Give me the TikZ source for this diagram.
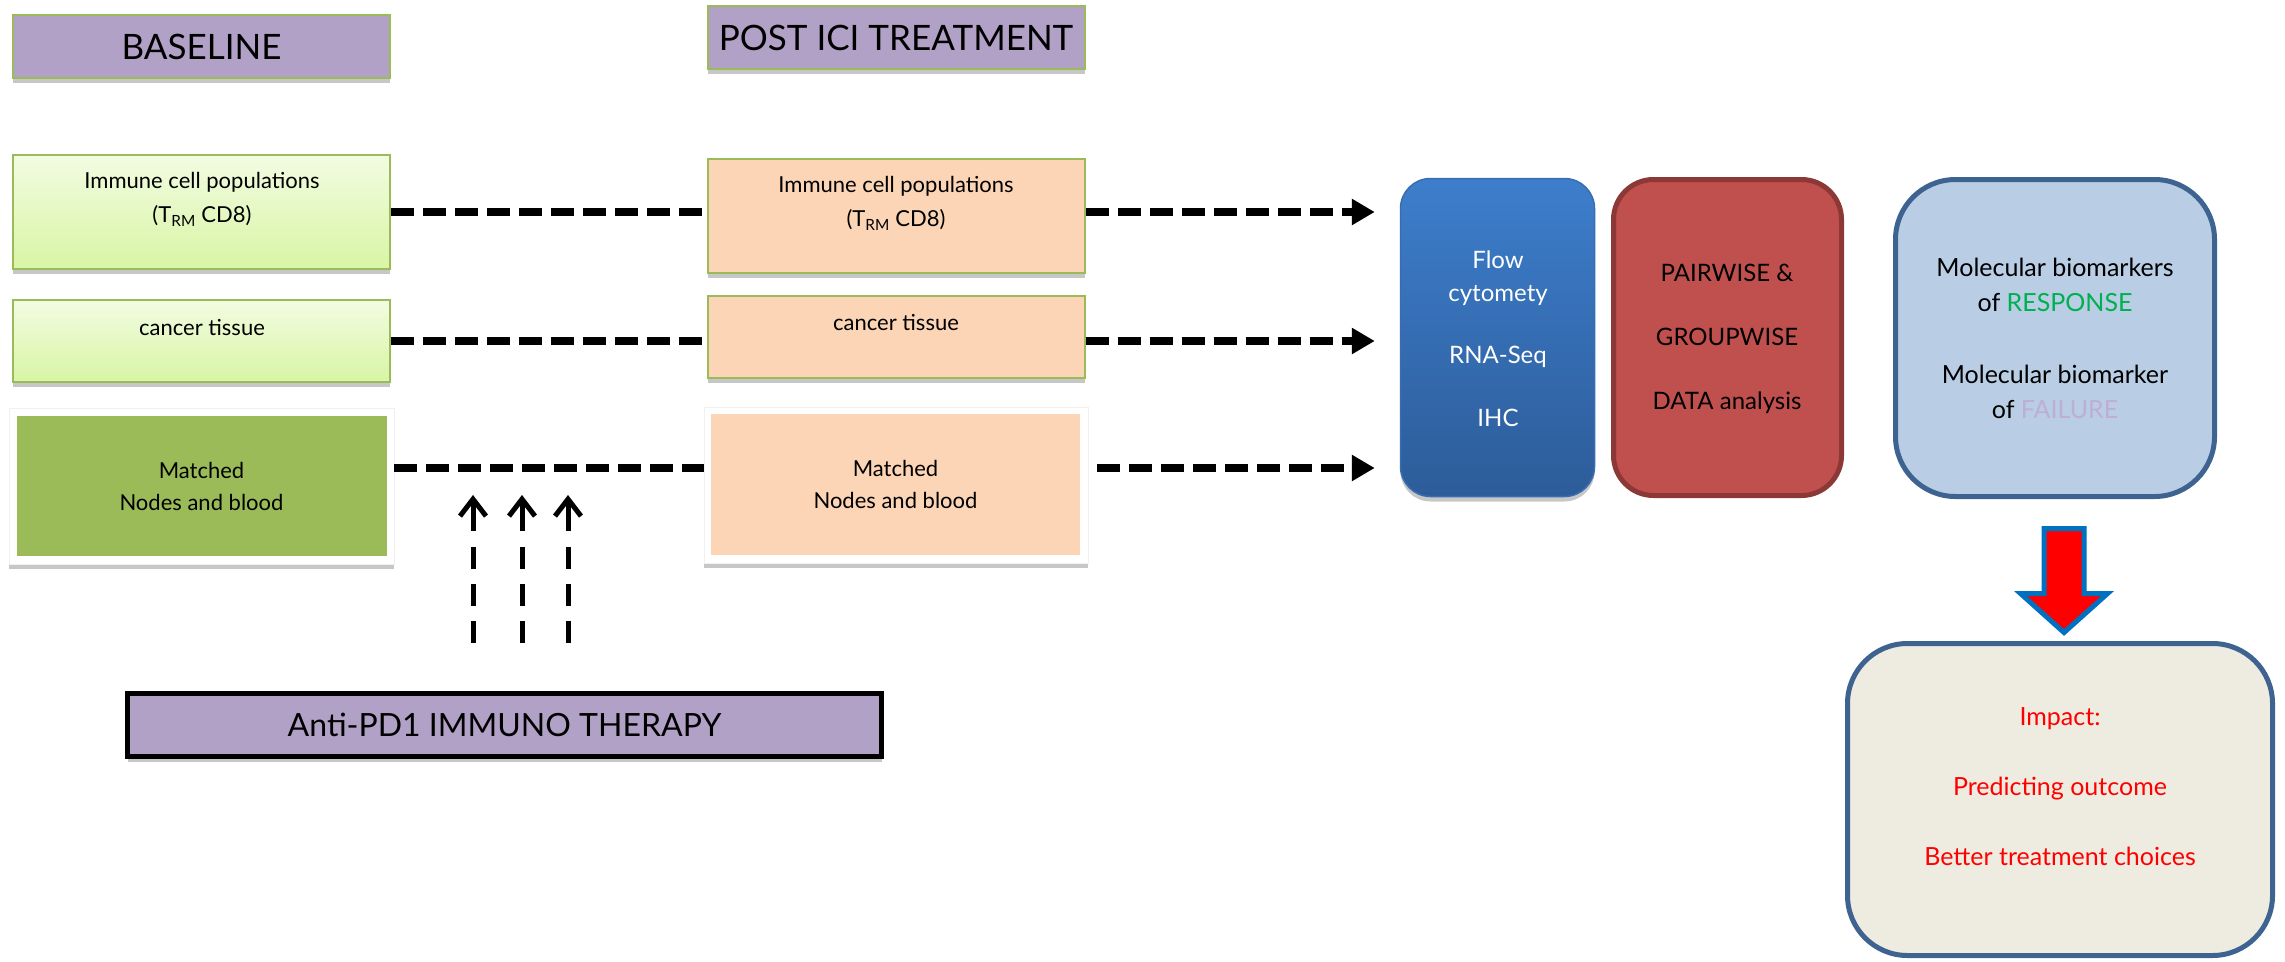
\documentclass[tikz,border=0pt]{standalone}
\usepackage{fontspec}
\setmainfont{Lato}
\usetikzlibrary{arrows.meta,shadows,calc}

\definecolor{hdrpurple}{HTML}{B2A1C7}
\definecolor{edgegreen}{HTML}{9BBB59}
\definecolor{paletop}{HTML}{F2FCE2}
\definecolor{palebot}{HTML}{D8F5A4}
\definecolor{peach}{HTML}{FBD5B5}
\definecolor{nodegreen}{HTML}{9BBB59}
\definecolor{bluetop}{HTML}{3D7ECC}
\definecolor{bluebot}{HTML}{2D5C99}
\definecolor{blueedge}{HTML}{3A6DAE}
\definecolor{redfill}{HTML}{C0504D}
\definecolor{rededge}{HTML}{8C3836}
\definecolor{lightblue}{HTML}{B9CDE5}
\definecolor{navy}{HTML}{3E6391}
\definecolor{beige}{HTML}{EEECE1}
\definecolor{respgreen}{HTML}{00B050}
\definecolor{failpurple}{HTML}{BFAED3}
\definecolor{arrowblue}{HTML}{0070C0}

\tikzset{
  softshadow/.style={drop shadow={shadow xshift=0pt, shadow yshift=-5pt, fill=black, opacity=0.22}},
  hdrbox/.style={draw=edgegreen, line width=2pt, fill=hdrpurple, minimum width=377pt,
    minimum height=63pt, inner sep=0pt, softshadow, font=\fontsize{35}{35}\selectfont},
  prebox/.style={draw=edgegreen, line width=2pt, top color=paletop, bottom color=palebot,
    minimum width=377pt, inner sep=0pt, softshadow},
  postbox/.style={draw=edgegreen, line width=2pt, fill=peach,
    minimum width=377pt, inner sep=0pt, softshadow},
  frame/.style={fill=white, draw=black!6, line width=0.6pt, inner sep=0pt, softshadow},
  inner/.style={inner sep=0pt, align=center, font=\fontsize{22}{32}\selectfont},
  txt/.style={inner sep=0pt, align=center, font=\fontsize{22}{34}\selectfont},
  hdash/.style={line width=8pt, dash pattern=on 23pt off 9pt},
  harrow/.style={hdash, -{Triangle[length=23pt,width=25pt]}, shorten >=25pt},
  varrow/.style={line width=5pt,
    dash pattern=on 22pt off 15pt on 22pt off 15pt on 22pt off 16pt on 80pt,
    -{Straight Barb[length=17pt,width=26pt]}},
  bigtxt/.style={inner sep=0pt, align=center, font=\fontsize{24}{33}\selectfont},
}

\begin{document}
\begin{tikzpicture}[x=1pt,y=-1pt]
\useasboundingbox[fill=white] (0,0) rectangle (2285,961);

% column headers
\node[hdrbox] (base) at (201.5,46.5) {BASELINE};
\node[hdrbox] (post) at (896,37.5) {POST ICI TREATMENT};

% baseline samples
\node[prebox, minimum height=114pt] (imm1) at (201.5,212) {};
\node[txt] (imm1t) at (202,199) {Immune cell populations\\(T\textsubscript{RM} CD8)};
\node[prebox, minimum height=82pt] (can1) at (201.5,341) {};
\node[txt] (can1t) at (202,328) {cancer tissue};
\node[frame, minimum width=385pt, minimum height=156pt] (mat1) at (201.5,486) {};
\node[inner, fill=nodegreen, minimum width=370pt, minimum height=140pt] (mat1t) at (201.5,486)
  {Matched\\Nodes and blood};

% post-treatment samples
\node[postbox, minimum height=114pt] (imm2) at (896,216) {};
\node[txt] (imm2t) at (896,203) {Immune cell populations\\(T\textsubscript{RM} CD8)};
\node[postbox, minimum height=82pt] (can2) at (896,337) {};
\node[txt] (can2t) at (896,323) {cancer tissue};
\node[frame, minimum width=384pt, minimum height=156pt] (mat2) at (896,485) {};
\node[inner, fill=peach, minimum width=369pt, minimum height=141pt] (mat2t) at (895.5,484.5)
  {Matched\\Nodes and blood};

% therapy
\node[draw=black, line width=5pt, fill=hdrpurple, minimum width=754pt, minimum height=63pt,
  inner sep=0pt, softshadow, font=\fontsize{32}{32}\selectfont] (pd1) at (504.5,725)
  {Anti-PD1 IMMUNO THERAPY};

% methods
\node[rounded corners=30pt, top color=bluetop, bottom color=bluebot, draw=blueedge,
  line width=1.5pt, minimum width=194pt, minimum height=318pt, softshadow] (flow) at (1497.5,337.5) {};
\node[bigtxt, text=white] (flowt) at (1498,339) {Flow\\cytomety\\[29pt]RNA-Seq\\[30pt]IHC};

\node[rounded corners=40pt, fill=redfill, draw=rededge, line width=5pt,
  minimum width=228pt, minimum height=316pt] (pair) at (1727.5,337.5) {};
\node[bigtxt, font=\fontsize{24}{64}\selectfont] (pairt) at (1727,339)
  {PAIRWISE \&\\GROUPWISE\\DATA analysis};

\node[rounded corners=60pt, fill=lightblue, draw=navy, line width=5pt,
  minimum width=319pt, minimum height=317pt] (mol) at (2055,338) {};
\node[bigtxt, font=\fontsize{25}{35}\selectfont] (molt) at (2055,338.5)
  {Molecular biomarkers\\of \textcolor{respgreen}{RESPONSE}\\[37pt]Molecular biomarker\\of \textcolor{failpurple}{FAILURE}};

% impact
\node[rounded corners=60pt, fill=beige, draw=navy, line width=5pt,
  minimum width=425pt, minimum height=312pt] (imp) at (2060,799.5) {};
\node[bigtxt, text=red, font=\fontsize{25}{70}\selectfont] (impt) at (2060,787)
  {Impact:\\Predicting outcome\\Better treatment choices};

% dashed links between sample pairs
\coordinate (r3) at (394,468);
\draw[hdash] (imm1.east) -- (imm1.east -| imm2.west);
\draw[hdash] (can1.east) -- (can1.east -| can2.west);
\draw[hdash] (r3) -- (r3 -| mat2.west);

% dashed links into the methods box
\draw[harrow] (imm2.east |- imm1.east) -- (imm1.east -| flow.west);
\draw[harrow] (can2.east |- can1.east) -- (can1.east -| flow.west);
\draw[harrow, shorten <=9pt] (mat2.east |- r3) -- (r3 -| flow.west);

% therapy arrows
\foreach \x [count=\i] in {473,522,568} {
  \coordinate (t\i) at (\x,643);
  \coordinate (h\i) at (\x,495);
  \draw[varrow] (t\i) -- (h\i);
}

% block arrow from biomarkers to impact
\coordinate (ba) at (2064,528.5);
\draw[fill=red, draw=arrowblue, line width=5pt, line join=miter]
  ($(ba)+(-20,0)$) -- ($(ba)+(20,0)$) -- ($(ba)+(20,65)$) -- ($(ba)+(43.5,65)$)
  -- ($(ba)+(0,104)$) -- ($(ba)+(-43.5,65)$) -- ($(ba)+(-20,65)$) -- cycle;
\end{tikzpicture}
\end{document}
